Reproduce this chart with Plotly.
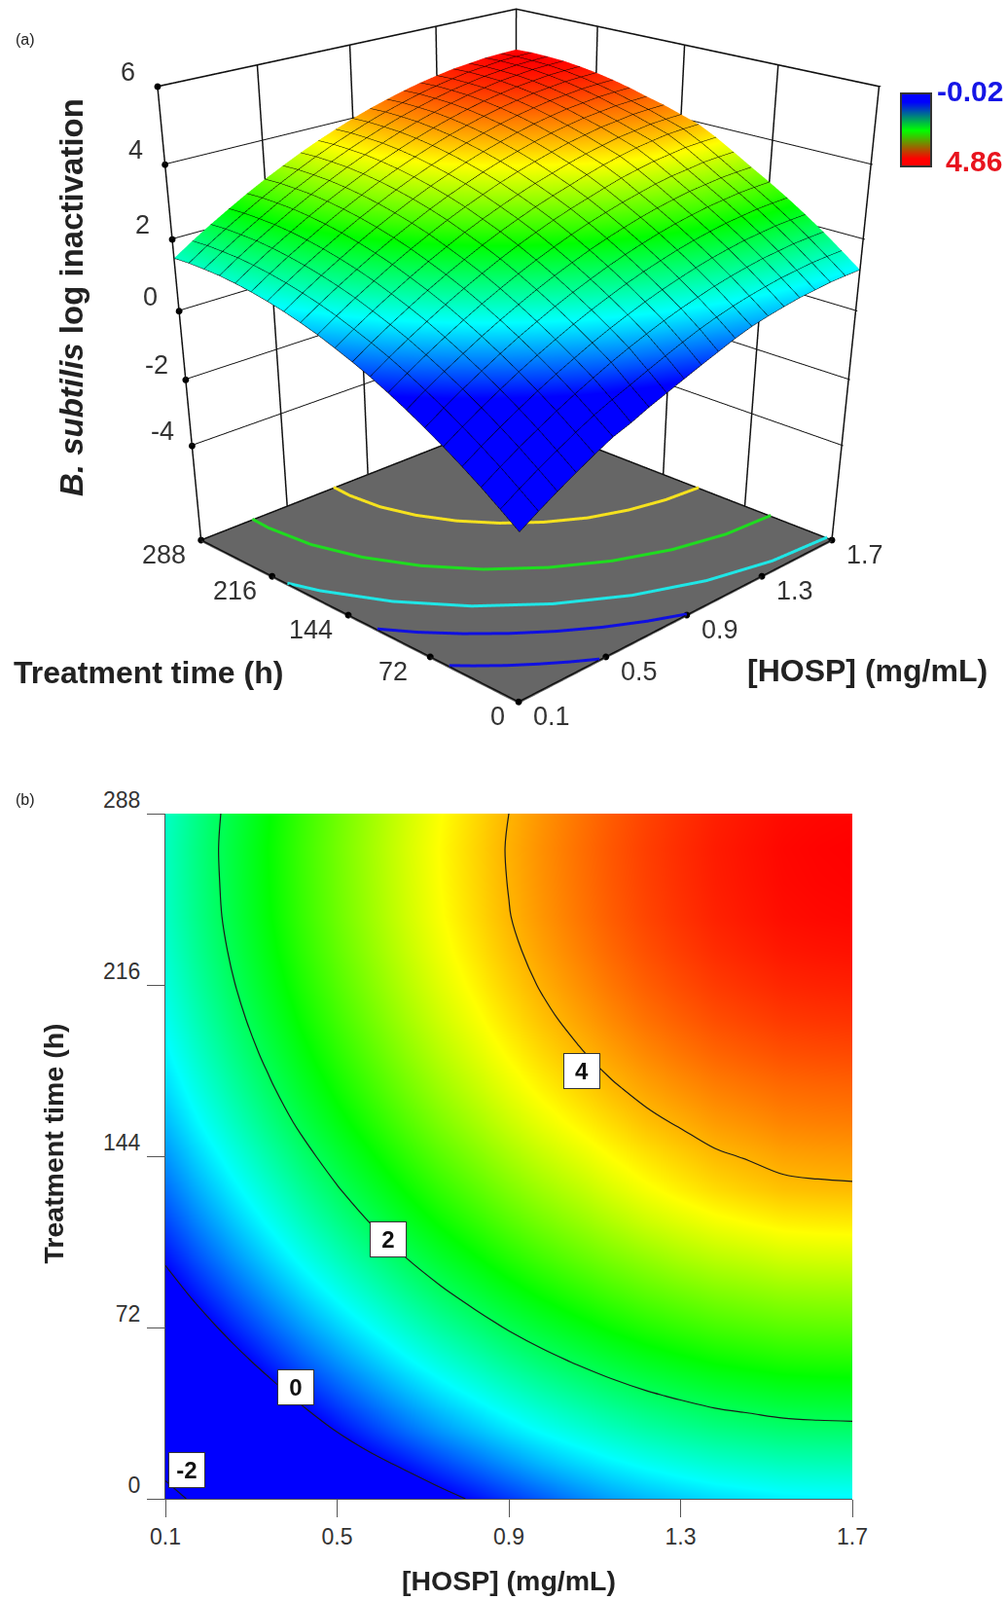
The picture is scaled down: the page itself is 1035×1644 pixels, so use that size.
import plotly.graph_objects as go

W, H = 1035, 1644

# ---- data ----
hosp = [0.10,0.18,0.26,0.34,0.42,0.50,0.58,0.66,0.74,0.82,0.90,0.98,1.06,1.14,1.22,1.30,1.38,1.46,1.54,1.62,1.70]
time_h = [0,14.4,28.8,43.2,57.6,72,86.4,100.8,115.2,129.6,144,158.4,172.8,187.2,201.6,216,230.4,244.8,259.2,273.6,288]
log_inact = [
[-2.20,-1.87,-1.56,-1.27,-.99,-.73,-.55,-.33,-.14,.05,.24,.42,.60,.75,.86,.95,1.03,1.08,1.13,1.15,1.16],
[-1.82,-1.49,-1.18,-.89,-.61,-.35,-.13,.07,.28,.48,.67,.85,1.00,1.13,1.24,1.33,1.41,1.46,1.51,1.53,1.54],
[-1.45,-1.12,-.81,-.52,-.24,.02,.26,.49,.70,.89,1.07,1.23,1.37,1.50,1.61,1.70,1.78,1.83,1.88,1.90,1.91],
[-1.11,-.78,-.47,-.18,.10,.36,.60,.83,1.04,1.23,1.41,1.57,1.71,1.84,1.95,2.04,2.12,2.17,2.22,2.24,2.25],
[-.79,-.46,-.15,.14,.42,.68,.92,1.15,1.36,1.55,1.73,1.89,2.03,2.16,2.27,2.36,2.44,2.49,2.54,2.56,2.57],
[-.49,-.16,.15,.44,.72,.98,1.22,1.45,1.66,1.85,2.03,2.19,2.33,2.46,2.57,2.66,2.74,2.79,2.84,2.86,2.87],
[-.21,.12,.43,.72,1.00,1.26,1.50,1.73,1.94,2.13,2.31,2.47,2.61,2.74,2.85,2.94,3.02,3.07,3.12,3.14,3.15],
[.05,.38,.69,.98,1.26,1.52,1.76,1.99,2.20,2.39,2.57,2.73,2.87,3.00,3.11,3.22,3.30,3.35,3.41,3.43,3.44],
[.29,.62,.93,1.22,1.50,1.76,2.00,2.23,2.44,2.63,2.81,2.97,3.11,3.25,3.38,3.48,3.57,3.63,3.69,3.71,3.72],
[.50,.83,1.14,1.43,1.71,1.97,2.21,2.44,2.65,2.84,3.02,3.18,3.32,3.47,3.60,3.71,3.805,3.87,3.93,3.95,3.96],
[.69,1.02,1.33,1.62,1.90,2.16,2.40,2.63,2.84,3.03,3.21,3.37,3.51,3.65,3.77,3.87,3.965,4.02,4.08,4.10,4.11],
[.87,1.20,1.51,1.80,2.08,2.34,2.58,2.81,3.02,3.21,3.39,3.55,3.69,3.82,3.94,4.03,4.12,4.17,4.23,4.25,4.26],
[1.02,1.35,1.66,1.95,2.23,2.49,2.73,2.96,3.17,3.36,3.54,3.70,3.84,3.97,4.08,4.17,4.25,4.30,4.35,4.37,4.38],
[1.15,1.48,1.79,2.08,2.36,2.62,2.86,3.09,3.30,3.49,3.67,3.83,3.97,4.10,4.21,4.30,4.38,4.43,4.48,4.50,4.51],
[1.26,1.59,1.90,2.19,2.47,2.73,2.97,3.20,3.41,3.60,3.78,3.94,4.08,4.21,4.32,4.41,4.49,4.54,4.59,4.61,4.62],
[1.35,1.68,1.99,2.28,2.56,2.82,3.06,3.29,3.50,3.69,3.87,4.03,4.17,4.30,4.41,4.50,4.58,4.63,4.68,4.70,4.71],
[1.42,1.75,2.06,2.35,2.63,2.89,3.13,3.36,3.57,3.76,3.94,4.10,4.24,4.37,4.48,4.57,4.65,4.70,4.75,4.77,4.78],
[1.47,1.80,2.11,2.40,2.68,2.94,3.18,3.41,3.62,3.81,3.99,4.15,4.29,4.42,4.53,4.62,4.70,4.75,4.80,4.82,4.83],
[1.49,1.82,2.13,2.42,2.70,2.96,3.20,3.43,3.64,3.83,4.01,4.17,4.31,4.44,4.55,4.64,4.72,4.77,4.82,4.84,4.85],
[1.50,1.83,2.14,2.43,2.71,2.97,3.21,3.44,3.65,3.84,4.02,4.18,4.32,4.45,4.56,4.65,4.73,4.78,4.83,4.85,4.86],
[1.48,1.81,2.12,2.41,2.69,2.95,3.19,3.42,3.63,3.82,4.00,4.16,4.30,4.43,4.54,4.63,4.71,4.76,4.81,4.83,4.84],
]
x_ticks = [0.1,0.5,0.9,1.3,1.7]
y_ticks = [0,72,144,216,288]
z_ticks = [-4,-2,0,2,4,6]
z_floor = -7
z_top = 6
z_min_col, z_max_col = -0.02, 4.86
legend_values = [[-0.02],[1.22],[2.42],[3.64],[4.86]]

floor_x_yellow = [.727,.721,.735,.78,.852,.95,1.07,1.21,1.365,1.53,1.7]
floor_y_yellow = [288,270,242.5,216,191,168.5,149,133,122,115,112]
floor_x_green = [.335,.33,.351,.414,.514,.65,.82,1.015,1.231,1.462,1.7]
floor_y_green = [288,270,231.7,194.7,160,128.5,101.5,79.4,63,53,50]
floor_x_cyan = [.1,.143,.266,.431,.636,.871,1.134,1.412,1.7]
floor_y_cyan = [201,179,137,98.8,66,39.4,19.7,7.8,3.8]
floor_x_blue1 = [.1,.177,.276,.385,.505,.633,.77,.9]
floor_y_blue1 = [117.8,98.3,77.8,58.6,40.8,24.8,10.8,0]
floor_x_blue2 = [.1,.153,.228,.308,.39,.47]
floor_y_blue2 = [56,46,33,21,9.8,0]

jet = [[0,"#0000ff"],[.25,"#00ffff"],[.5,"#00ff00"],[.75,"#ffff00"],[1,"#ff0000"]]
FONT = "Liberation Sans"
TICK = "#333333"

def fx_(px):
    return px / W
def fy_(py):
    return 1 - py / H

fig = go.Figure()

# ---- (a) surface ----
fig.add_trace(go.Surface(
    x=hosp, y=time_h, z=log_inact, colorscale=jet, cmin=z_min_col, cmax=z_max_col,
    showscale=False, hoverinfo="skip",
    lighting=dict(ambient=1, diffuse=0, specular=0, roughness=1, fresnel=0),
    contours=dict(
        x=dict(show=True, start=hosp[0], end=hosp[-1], size=hosp[1]-hosp[0], color="#000000", width=2),
        y=dict(show=True, start=time_h[0], end=time_h[-1], size=time_h[1]-time_h[0], color="#000000", width=2),
        z=dict(show=False),
    ),
))

# box edges and wall lines
xa, xb, ya, yb = x_ticks[0], x_ticks[-1], y_ticks[0], y_ticks[-1]
ex, ey, ez = [], [], []
def seg(p, q):
    ex.extend([p[0], q[0], None]); ey.extend([p[1], q[1], None]); ez.extend([p[2], q[2], None])
for t in x_ticks[:-1]:
    seg((t, yb, z_floor), (t, yb, z_top))
for t in y_ticks[1:]:
    seg((xb, t, z_floor), (xb, t, z_top))
seg((xa, yb, z_floor), (xa, yb, z_top))
seg((xb, ya, z_floor), (xb, ya, z_top))
seg((xa, yb, z_top), (xb, yb, z_top))
seg((xb, yb, z_top), (xb, ya, z_top))
seg((xa, ya, z_floor), (xa, yb, z_floor))
seg((xa, ya, z_floor), (xb, ya, z_floor))
seg((xa, yb, z_floor), (xb, yb, z_floor))
seg((xb, yb, z_floor), (xb, ya, z_floor))
fig.add_trace(go.Scatter3d(x=ex, y=ey, z=ez, mode="lines", line=dict(color="#111111", width=3), hoverinfo="skip", showlegend=False))

# tick dots
dx = list(x_ticks) + [xa]*len(y_ticks) + [xa]*len(z_ticks)
dy = [ya]*len(x_ticks) + list(y_ticks) + [yb]*len(z_ticks)
dz = [z_floor]*(len(x_ticks)+len(y_ticks)) + list(z_ticks)
fig.add_trace(go.Scatter3d(x=dx, y=dy, z=dz, mode="markers", marker=dict(color="black", size=4), hoverinfo="skip", showlegend=False))

# floor contour lines
for fx, fy, c in [(floor_x_yellow, floor_y_yellow, "#f5e11e"), (floor_x_green, floor_y_green, "#1fdc1f"),
                  (floor_x_cyan, floor_y_cyan, "#1fe6e6"), (floor_x_blue1, floor_y_blue1, "#1010e0"),
                  (floor_x_blue2, floor_y_blue2, "#1010e0")]:
    fig.add_trace(go.Scatter3d(x=fx, y=fy, z=[z_floor+0.03]*len(fx), mode="lines",
                               line=dict(color=c, width=6), hoverinfo="skip", showlegend=False))

def ann3d(x, y, z, text, xs, ys):
    return dict(x=x, y=y, z=z, text=text, showarrow=False, xshift=xs, yshift=ys,
                font=dict(family=FONT, size=27, color=TICK))
sa = []
for t in z_ticks:
    sa.append(ann3d(xa, yb, t, str(t), -30, 15))
for t, s in zip(y_ticks[1:], ["72","144","216","288"]):
    sa.append(ann3d(xa, t, z_floor, s, -38, -15))
sa.append(ann3d(xa, ya, z_floor, "0", -22, -15))
for t, s in zip(x_ticks, ["0.1","0.5","0.9","1.3","1.7"]):
    sa.append(ann3d(t, ya, z_floor, s, 34, -15))

blank = dict(showgrid=False, zeroline=False, showline=False, showticklabels=False, ticks="",
             showspikes=False, showbackground=False, title=dict(text=""))
fig.update_layout(scene=dict(
    domain=dict(x=[0,1], y=[0,1]),
    bgcolor="rgba(0,0,0,0)",
    aspectmode="manual", aspectratio=dict(x=1, y=1, z=0.98),
    xaxis=dict(blank, range=[xa-0.004, xb+0.004], tickvals=x_ticks),
    yaxis=dict(blank, range=[ya-0.7, yb+0.7], tickvals=y_ticks),
    zaxis=dict(blank, range=[z_floor-0.03, z_top+0.03], tickvals=z_ticks, showgrid=True, gridcolor="#111111", gridwidth=2,
               showbackground=True, backgroundcolor="#666666"),
    camera=dict(eye=dict(x=-2.782, y=-2.74, z=1.421), center=dict(x=-0.406, y=-0.365, z=-0.821), up=dict(x=0, y=0, z=1)),
    annotations=sa,
))

# ---- colour legend ----
fig.add_trace(go.Heatmap(z=legend_values, colorscale=[[0,"#0000ff"],[.5,"#00ff00"],[1,"#ff0000"]],
                         zmin=z_min_col, zmax=z_max_col, showscale=False, zsmooth="best", xaxis="x2", yaxis="y2", hoverinfo="skip"))

# ---- (b) contour map ----
fig.add_trace(go.Heatmap(x=hosp, y=time_h, z=log_inact, colorscale=jet, zmin=z_min_col, zmax=z_max_col,
                         zsmooth="best", showscale=False, hoverinfo="skip"))
fig.add_trace(go.Contour(x=hosp, y=time_h, z=log_inact, contours=dict(coloring="none", start=-2, end=4, size=2),
                         line=dict(color="#1a1a1a", width=1.2), showscale=False, hoverinfo="skip"))

axis2d = dict(ticks="outside", ticklen=18, tickcolor="#555555", tickwidth=1.2, showline=True, linecolor="#555555",
              linewidth=1.2, showgrid=False, zeroline=False, tickfont=dict(family=FONT, size=23, color=TICK), automargin=False)
fig.update_layout(
    width=W, height=H, margin=dict(l=0, r=0, t=0, b=0, autoexpand=False), paper_bgcolor="white", plot_bgcolor="white",
    showlegend=False,
    xaxis=dict(axis2d, domain=[fx_(170), fx_(876)], range=[xa, xb], tickvals=x_ticks, ticktext=["0.1","0.5","0.9","1.3","1.7"],
               title=dict(text="<b>[HOSP] (mg/mL)</b>", font=dict(family=FONT, size=28.5, color="#222222"), standoff=23)),
    yaxis=dict(axis2d, domain=[fy_(1540), fy_(836)], range=[ya, yb], tickvals=y_ticks, ticklabelshift=-14, ticklabelstandoff=2),
    xaxis2=dict(domain=[fx_(927), fx_(956)], anchor="y2", showticklabels=False, ticks="", showgrid=False, zeroline=False,
                showline=True, mirror=True, linecolor="#333333", linewidth=1.5, automargin=False),
    yaxis2=dict(domain=[fy_(170), fy_(97)], anchor="x2", showticklabels=False, ticks="", showgrid=False, zeroline=False,
                autorange="reversed", showline=True, mirror=True, linecolor="#333333", linewidth=1.5, automargin=False),
)

def pa(px, py, text, size, color="#222222", **kw):
    return dict(xref="paper", yref="paper", x=fx_(px), y=fy_(py), xanchor="center", yanchor="middle",
                text=text, showarrow=False, font=dict(family=FONT, size=size, color=color), **kw)

annots = [
    pa(26, 41, "(a)", 16), pa(26, 821, "(b)", 16),
    pa(73, 306, "<b><i>B. subtilis</i> log inactivation</b>", 33, textangle=-90),
    pa(152, 691, "<b>Treatment time (h)</b>", 32),
    pa(891, 689, "<b>[HOSP] (mg/mL)</b>", 32),
    pa(997, 94, "<b>-0.02</b>", 30, color="#1515e6"),
    pa(1001, 165, "<b>4.86</b>", 30, color="#e8141e"),
    pa(54.5, 1175, "<b>Treatment time (h)</b>", 28.5, textangle=-90),
]
for x, y, s in [(1.07, 180, "4"), (0.62, 109, "2"), (0.404, 47, "0"), (0.15, 12, "-2")]:
    annots.append(dict(xref="x", yref="y", x=x, y=y, text=f"<b>{s}</b>", showarrow=False, width=34, height=33,
                       bgcolor="white", bordercolor="#333333", borderwidth=1,
                       font=dict(family=FONT, size=24, color="#111111")))
fig.update_layout(annotations=annots)

fig.write_html("out.html", config=dict(displayModeBar=False), post_script="document.body.style.margin='0';")
